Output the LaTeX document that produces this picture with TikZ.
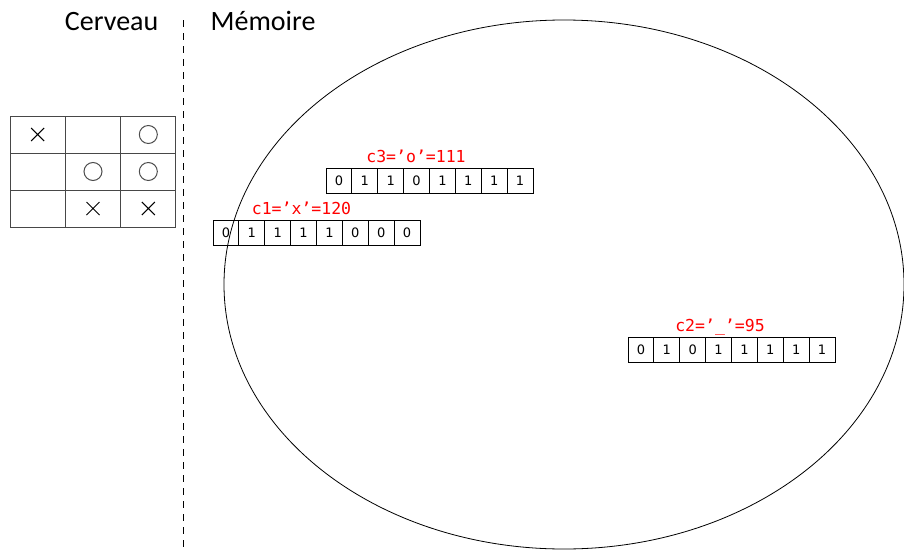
\documentclass[tikz,border=0pt]{standalone}
\usepackage{fontspec}
\newfontfamily\titlefont{Carlito}
\newfontfamily\cellfont{DejaVu Sans}
\newfontfamily\codefont{DejaVu Sans Mono}
\usetikzlibrary{calc}

\tikzset{
  title/.style={font=\titlefont\fontsize{28}{32}\selectfont, inner sep=0pt},
  bitcell/.style={draw, line width=0.8pt, minimum width=25.875pt, minimum height=25pt,
    inner sep=0pt, outer sep=0pt, font=\cellfont\fontsize{13}{15}\selectfont},
  bytelabel/.style={text=red, inner sep=0pt, anchor=base, font=\codefont\fontsize{16.5}{19}\selectfont},
  gridcell/.style={draw=black!72, line width=1pt, minimum width=55.33pt, minimum height=37pt,
    inner sep=0pt, outer sep=0pt},
  mark O/.style={draw=black!70, line width=1pt},
  mark X/.style={draw=black, line width=1pt},
}

% one byte: name, left x, top y, bits, label, label offset from row centre
\newcommand\byterow[6]{%
  \foreach \b [count=\i] in {#4}
    \node[bitcell] (#1-\i) at ({#2+(\i-0.5)*25.875}, {#3+12.5}) {\b};
  \node[bytelabel] (#1-lab) at ({#2+103.5+#6}, {#3-6}) {#5};
}

\begin{document}
\begin{tikzpicture}[x=1pt, y=-1pt]
  \useasboundingbox (0,0) rectangle (904,549);

  % titles and separator
  \node[title, anchor=base east] (brain) at (158.5,30) {Cerveau};
  \node[title, anchor=base west] (memory) at (210.5,30) {Mémoire};
  \coordinate (sepTop) at (183,20);
  \coordinate (sepBot) at (183,549);
  \draw[dash pattern=on 7pt off 6pt, line width=0.9pt] (sepTop) -- (sepBot);

  % memory area
  \draw[line width=0.8pt] (564,284.5) ellipse [x radius=340pt, y radius=264.5pt];

  % tic-tac-toe board
  \foreach \r in {1,2,3}
    \foreach \c in {1,2,3}
      \node[gridcell] (g-\r-\c) at ({10+(\c-0.5)*55.33}, {116+(\r-0.5)*37}) {};

  \foreach \cell in {g-1-3, g-2-2, g-2-3}
    \draw[mark O] (\cell.center) circle [radius=9pt];
  \foreach \cell in {g-1-1, g-3-2, g-3-3}
    \draw[mark X] ($(\cell.center)+(-6.5,-6.5)$) -- ($(\cell.center)+(6.5,6.5)$)
                  ($(\cell.center)+(-6.5,6.5)$) -- ($(\cell.center)+(6.5,-6.5)$);

  % stored characters
  \byterow{c3}{326}{168}{0,1,1,0,1,1,1,1}{c3=’o’=111}{-13.5}
  \byterow{c1}{213}{220}{0,1,1,1,1,0,0,0}{c1=’x’=120}{-15}
  \byterow{c2}{628}{337}{0,1,0,1,1,1,1,1}{c2=’\_’=95}{-11.5}
\end{tikzpicture}
\end{document}
